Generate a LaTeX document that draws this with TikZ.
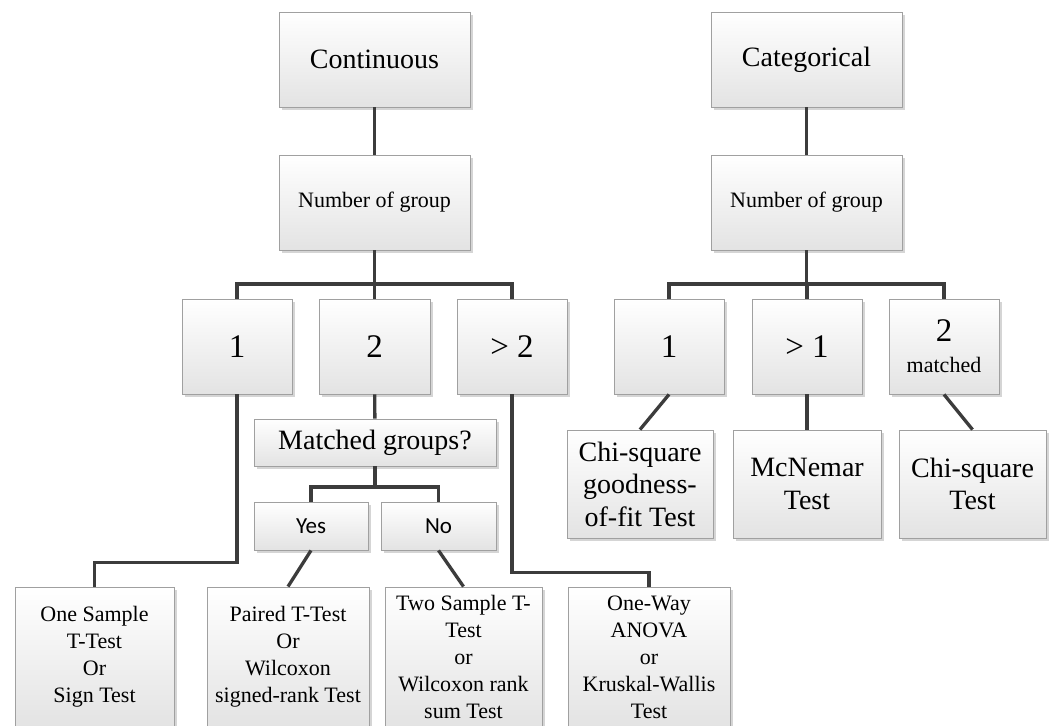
\documentclass[tikz,border=0pt]{standalone}
\usepackage{fontspec}
\setmainfont{Liberation Serif}
\newfontfamily\yesnofont{Carlito}
\usetikzlibrary{shadows}

\definecolor{linkgray}{HTML}{3C3C3C}
\definecolor{boxline}{HTML}{A0A0A0}
\definecolor{boxbottom}{HTML}{E3E3E3}

\tikzset{
    box/.style={draw=boxline, line width=0.9pt, top color=white, bottom color=boxbottom,
        inner sep=0pt, align=center,
        drop shadow={shadow xshift=2.5pt, shadow yshift=-2.5pt, fill=black!18, opacity=0.9}},
    topbox/.style={box, minimum width=191, minimum height=95},
    numbox/.style={box, minimum width=110, minimum height=95, font=\fontsize{33}{36}\selectfont},
    askbox/.style={box, minimum height=47, font=\fontsize{28}{32}\selectfont},
    ynbox/.style={box, minimum height=48, font=\yesnofont\fontsize{23}{26}\selectfont},
    testbox/.style={box, minimum height=140, font=\fontsize{22}{27}\selectfont},
    catbox/.style={box, minimum height=108, font=\fontsize{28}{32.5}\selectfont},
    link/.style={draw=linkgray, line width=3.3pt}
}

\begin{document}
\begin{tikzpicture}[x=1pt,y=-1pt]

    \useasboundingbox[fill=white] (0,0) rectangle (1053,726);
    \clip (0,0) rectangle (1053,726);

    %TOP ROW
    \node[topbox, font=\fontsize{28}{32}\selectfont] (cont) at (374.5,59.5) {Continuous};
    \node[topbox, font=\fontsize{28}{32}\selectfont] (cat)  at (806.5,59.5) {Categorical};
    \node[topbox, font=\fontsize{22}{26}\selectfont] (ngl)  at (374.5,202.5) {Number of group};
    \node[topbox, font=\fontsize{22}{26}\selectfont] (ngr)  at (806.5,202.5) {Number of group};

    %NUMBER OF GROUPS
    \node[numbox] (g1) at (237,346.5) {1};
    \node[numbox, minimum width=111] (g2) at (374.5,346.5) {2};
    \node[numbox] (g3) at (512,346.5) {> 2};
    \node[numbox] (c1) at (669,346.5) {1};
    \node[numbox] (c2) at (807,346.5) {> 1};
    \node[numbox] (c3) at (944,346.5) {2\\[-5pt]{\fontsize{22}{24}\selectfont matched}};

    %MATCHED OR NOT
    \node[askbox, minimum width=242] (match) at (375,442.5) {Matched groups?};
    \node[ynbox, minimum width=114] (yes) at (311,526) {Yes};
    \node[ynbox, minimum width=115] (no)  at (438.5,526) {No};

    %TESTS, CONTINUOUS
    \node[testbox, minimum width=159] (ost)    at (94.5,657)  {One Sample\\T-Test\\Or\\Sign Test};
    \node[testbox, minimum width=162] (paired) at (288,657)   {Paired T-Test\\Or\\Wilcoxon\\signed-rank Test};
    \node[testbox, minimum width=157] (twos)   at (463.5,657) {Two Sample T-\\Test\\or\\Wilcoxon rank\\sum Test};
    \node[testbox, minimum width=162] (anova)  at (649,657)   {One-Way\\ANOVA\\or\\Kruskal-Wallis\\Test};

    %TESTS, CATEGORICAL
    \node[catbox, minimum width=146] (chigof) at (640,484)   {Chi-square\\goodness-\\of-fit Test};
    \node[catbox, minimum width=148] (mcn)    at (807,484)   {McNemar\\Test};
    \node[catbox, minimum width=147] (chisq)  at (972.5,484) {Chi-square\\Test};

    %LINKS
    \coordinate (bl) at (374.5,284);
    \coordinate (br) at (806.5,284);
    \coordinate (mb) at (375,487);

    \draw[link] (cont) -- (ngl);
    \draw[link] (cat) -- (ngr);
    \draw[link] (ngl) -- (bl);
    \draw[link] (ngr) -- (br);
    \foreach \n in {g1,g2,g3}{\draw[link] (bl) -| (\n.north);}
    \foreach \n in {c1,c2,c3}{\draw[link] (br) -| (\n.north);}

    \draw[link] (g1.south) -- ++(0,168) -| (ost.north);
    \draw[link] (g2) -- (match);
    \draw[link] (g3.south) -- ++(0,178) -| (anova.north);

    \draw[link] (match.south) -- (mb);
    \foreach \n in {yes,no}{\draw[link] (mb) -| (\n.north);}
    \draw[link] (yes.south) -- (paired.north);
    \draw[link] (no.south) -- (twos.north);

    \draw[link] (c1.south) -- (chigof.north);
    \draw[link] (c2) -- (mcn);
    \draw[link] (c3.south) -- (chisq.north);

\end{tikzpicture}
\end{document}
